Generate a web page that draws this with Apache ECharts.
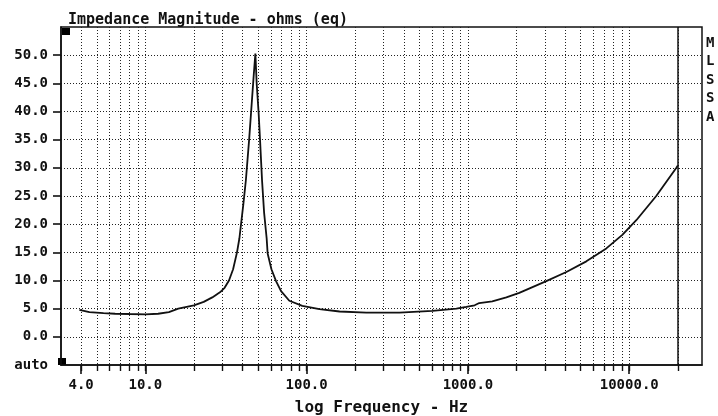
<!DOCTYPE html>
<html><head><meta charset="utf-8">
<script src="https://cdn.jsdelivr.net/npm/echarts@6/dist/echarts.min.js"></script>
<style>html,body{margin:0;padding:0;background:#fff}#c{width:718px;height:416px}</style>
</head><body><div id="c"></div>
<script>
// Frequency (Hz) and impedance magnitude (ohms)
const freqHz = [3.9, 4.5, 5.5, 6.5, 8, 10, 12, 14, 16, 20, 23, 26, 29, 31, 33, 35, 37, 38.3, 40.5, 42.0, 44.0, 45.8, 47, 48.1, 49, 50.4, 51.4, 52.9, 54.5, 56.5, 57.3, 60.5, 64.6, 69.4, 78.1, 94, 120, 160, 234, 376, 602, 848, 977, 1100, 1175, 1415, 1730, 2080, 3060, 4075, 5420, 7210, 9060, 11060, 14700, 19600, 20000];
const impedanceOhms = [4.8, 4.4, 4.2, 4.1, 4.05, 4.0, 4.1, 4.4, 5.0, 5.6, 6.2, 7.0, 7.9, 8.7, 10.0, 12.0, 15.0, 17.5, 23.5, 27.8, 35.0, 42.0, 46.5, 50.3, 45.0, 39.7, 35.0, 27.8, 22.0, 17.5, 14.8, 12.0, 9.9, 8.1, 6.4, 5.5, 4.9, 4.5, 4.3, 4.3, 4.6, 5.0, 5.3, 5.6, 6.0, 6.3, 7.0, 7.8, 9.9, 11.5, 13.4, 15.7, 18.1, 20.7, 25.0, 30.0, 30.4];
// Axis ticks
const yTickValues = [0, 5, 10, 15, 20, 25, 30, 35, 40, 45, 50];
const yLabelValues = [-5, 0, 5, 10, 15, 20, 25, 30, 35, 40, 45, 50];
const xMajorTicks = [4, 10, 100, 1000, 10000];
const xGridValues = [4, 5, 6, 7, 8, 9, 10, 20, 30, 40, 50, 60, 70, 80, 90, 100, 200, 300, 400, 500, 600, 700, 800, 900, 1000, 2000, 3000, 4000, 5000, 6000, 7000, 8000, 9000, 10000, 20000];
const xMin = 3, xMax = 28250, yMin = -5, yMax = 55;
const titleText = 'Impedance Magnitude - ohms (eq)';
const xAxisTitle = 'log Frequency - Hz';
const sideLetters = ['M', 'L', 'S', 'S', 'A'];

const FONT = '"DejaVu Sans Mono", monospace';
const chart = echarts.init(document.getElementById('c'), null, {renderer: 'canvas'});
const dotted = {color: '#222', width: 1, type: [1, 2]};

chart.setOption({
  animation: false,
  backgroundColor: '#fff',
  title: {
    text: titleText, left: 63, top: 8,
    textStyle: {fontFamily: FONT, fontWeight: 'bold', fontSize: 15, color: '#111'}
  },
  grid: {left: 61, right: 16, top: 27, bottom: 51, containLabel: false, outerBoundsMode: 'none',
    show: true, borderColor: '#111', borderWidth: 1.5, backgroundColor: 'transparent'},
  xAxis: [
    {
      type: 'log', logBase: 10, min: xMin, max: xMax, position: 'bottom',
      axisLine: {show: true, onZero: false, lineStyle: {color: '#111', width: 1.5}},
      axisTick: {show: true, inside: false, customValues: xMajorTicks, length: 9, lineStyle: {color: '#111', width: 1.6}},
      axisLabel: {show: true, customValues: xMajorTicks, margin: 13, fontFamily: FONT, fontWeight: 'bold', fontSize: 14, color: '#111',
        formatter: v => Number(v).toFixed(1)},
      splitLine: {show: false}, minorTick: {show: false},
      name: xAxisTitle, nameLocation: 'middle', nameGap: 35,
      nameTextStyle: {fontFamily: FONT, fontWeight: 'bold', fontSize: 16, color: '#111'}
    },
    {
      type: 'log', logBase: 10, min: xMin, max: xMax, position: 'bottom',
      axisLine: {show: false, onZero: false},
      axisTick: {show: true, inside: false, customValues: xGridValues, length: 6, lineStyle: {color: '#111', width: 1.4}},
      axisLabel: {show: false},
      splitLine: {show: true, lineStyle: dotted}
    }
  ],
  yAxis: {
    type: 'value', min: yMin, max: yMax,
    axisLine: {show: true, onZero: false, lineStyle: {color: '#111', width: 1.5}},
    axisTick: {show: true, inside: false, customValues: yTickValues, length: 8, lineStyle: {color: '#111', width: 1.6}},
    axisLabel: {show: true, customValues: yLabelValues, margin: 13, fontFamily: FONT, fontWeight: 'bold', fontSize: 14, color: '#111',
      formatter: v => (v === -5 ? 'auto' : Number(v).toFixed(1))},
    splitLine: {show: true, lineStyle: dotted}
  },
  series: [{
    type: 'line', xAxisIndex: 0,
    data: freqHz.map((f, i) => [f, impedanceOhms[i]]),
    showSymbol: false, symbol: 'none',
    smooth: false,
    lineStyle: {color: '#111', width: 1.8},
    z: 5,
    markLine: {
      silent: true, symbol: 'none', label: {show: false},
      lineStyle: {color: '#111', width: 1.5, type: 'solid'},
      data: [{xAxis: 20000}]
    }
  }],
  graphic: [
    {type: 'rect', left: 62, top: 28, shape: {width: 8, height: 7}, style: {fill: '#000'}},
    {type: 'rect', left: 58, top: 358, shape: {width: 8, height: 7}, style: {fill: '#000'}},
    {type: 'text', left: 706, top: 34, style: {text: sideLetters.join('\n'), lineHeight: 18.5, fontFamily: FONT, fontWeight: 'bold', fontSize: 14, fill: '#111'}}
  ]
});
</script>
</body></html>
